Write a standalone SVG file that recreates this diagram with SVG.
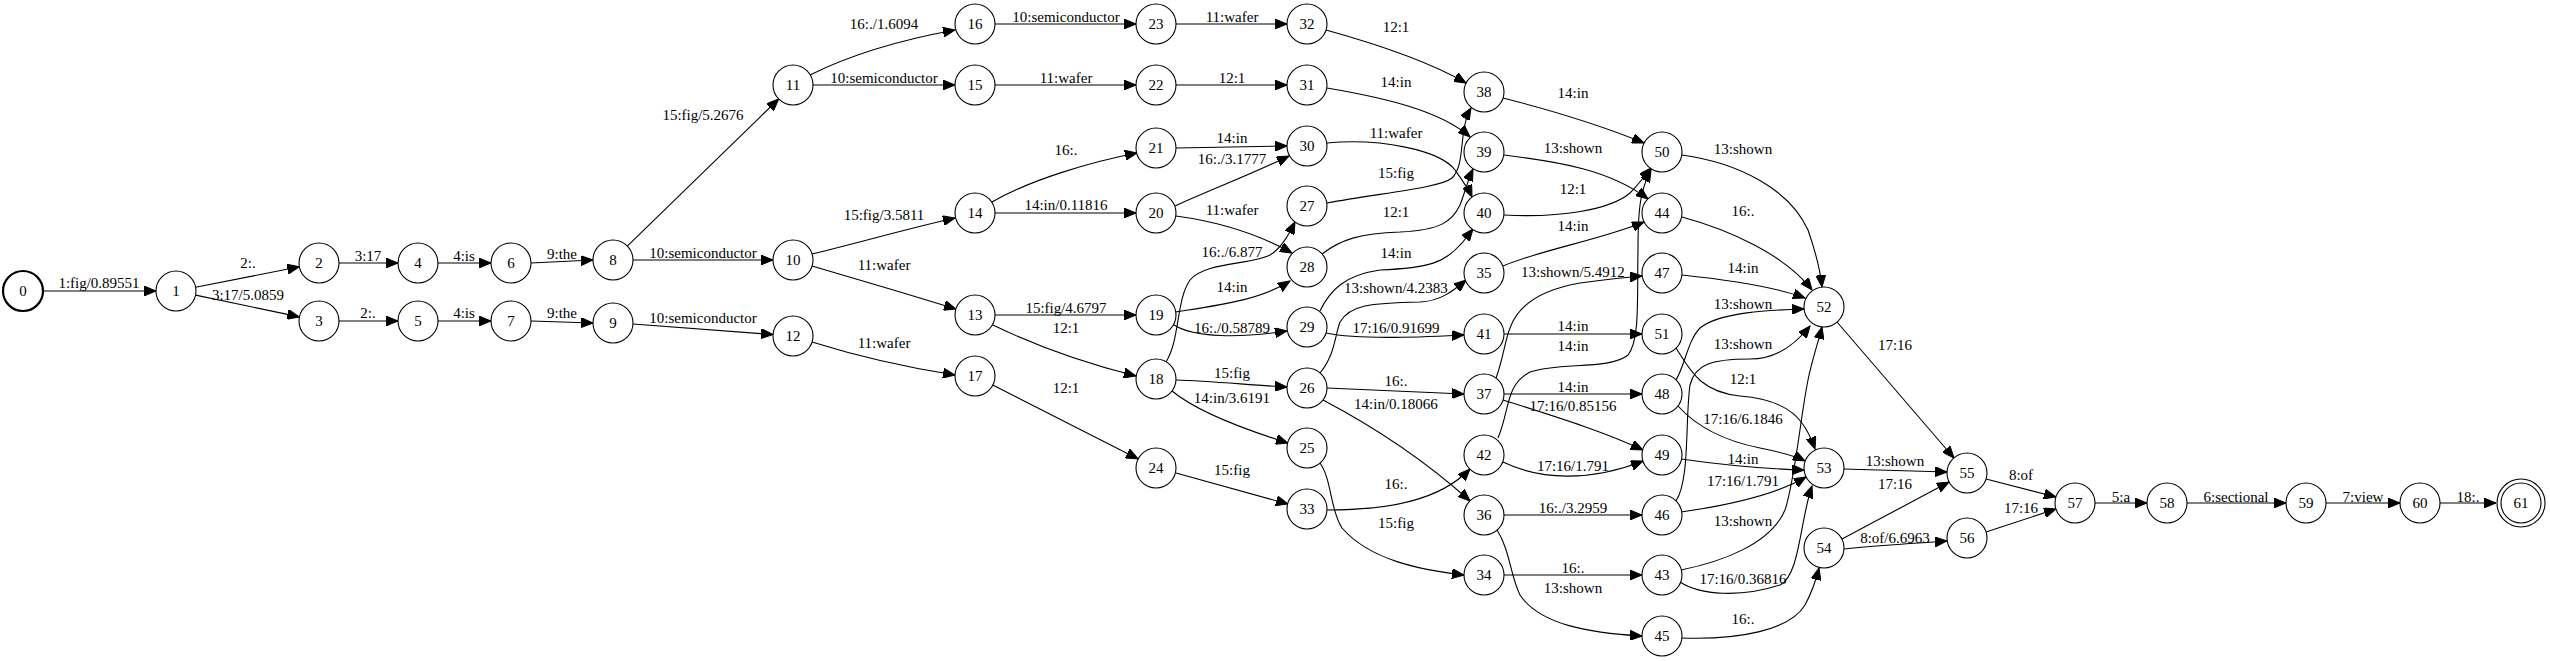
<svg xmlns="http://www.w3.org/2000/svg" width="2550" height="661" viewBox="0 0 2550 661">
<style>
.n circle{fill:#fff;stroke:#000;stroke-width:1.1}
.n text,.lb{font-family:"Liberation Serif","Times New Roman",serif;font-size:15px;text-anchor:middle;fill:#000}
#edges path{fill:none;stroke:#000;stroke-width:1.1;marker-end:url(#ah)}
</style>
<defs>
<marker id="ah" markerUnits="userSpaceOnUse" markerWidth="13" markerHeight="10" refX="12" refY="5" orient="auto">
<path d="M0,0 L12,5 L0,10 z" fill="#000" stroke="#000" stroke-width="1"/>
</marker>
</defs>
<rect width="2550" height="661" fill="#fff"/>
<g id="edges">
<path d="M43,291 L156,291"/><text class="lb" x="99" y="288">1:fig/0.89551</text>
<path d="M195.6,287.2 L299.4,266.8"/><text class="lb" x="248" y="268">2:.</text>
<path d="M195.6,295.1 L299.4,316.9"/><text class="lb" x="248" y="300">3:17/5.0859</text>
<path d="M339,263 L398,263"/><text class="lb" x="368" y="261">3:17</text>
<path d="M339,321 L398,321"/><text class="lb" x="368" y="318">2:.</text>
<path d="M438,263 L491,263"/><text class="lb" x="464" y="261">4:is</text>
<path d="M438,321 L491,321"/><text class="lb" x="464" y="318">4:is</text>
<path d="M531,263 L593,260"/><text class="lb" x="562" y="259">9:the</text>
<path d="M531,321 L593,323"/><text class="lb" x="562" y="318">9:the</text>
<path d="M633,260 L773,260"/><text class="lb" x="703" y="258">10:semiconductor</text>
<path d="M633,324 L773,334.5"/><text class="lb" x="703" y="323">10:semiconductor</text>
<path d="M627.3,246.1 L778.7,98.9"/><text class="lb" x="703" y="120">15:fig/5.2676</text>
<path d="M810,75 C850,55 900,40 955,30"/><text class="lb" x="884" y="29">16:./1.6094</text>
<path d="M813,85 L955,85"/><text class="lb" x="884" y="83">10:semiconductor</text>
<path d="M812,254 C850,245 910,228 955,218"/><text class="lb" x="884" y="220">15:fig/3.5811</text>
<path d="M812,266 C850,277 910,295 956,309"/><text class="lb" x="884" y="270">11:wafer</text>
<path d="M812,342 C860,357 910,368 955,375"/><text class="lb" x="884" y="348">11:wafer</text>
<path d="M995,24 L1136,24"/><text class="lb" x="1066" y="22">10:semiconductor</text>
<path d="M995,85 L1136,85"/><text class="lb" x="1066" y="83">11:wafer</text>
<path d="M992,202 C1030,180 1090,162 1137,153"/><text class="lb" x="1066" y="155">16:.</text>
<path d="M995,213 L1136,213"/><text class="lb" x="1066" y="210">14:in/0.11816</text>
<path d="M995,315 L1136,315"/><text class="lb" x="1066" y="313">15:fig/4.6797</text>
<path d="M993,325 C1030,343 1080,362 1136,376"/><text class="lb" x="1066" y="333">12:1</text>
<path d="M992.8,385.1 L1138.2,458.9"/><text class="lb" x="1066" y="393">12:1</text>
<path d="M1176,24 L1287,24"/><text class="lb" x="1232" y="22">11:wafer</text>
<path d="M1176,85 L1287,85"/><text class="lb" x="1232" y="83">12:1</text>
<path d="M1176,148 L1287,146"/><text class="lb" x="1232" y="143">14:in</text>
<path d="M1175,206 C1210,190 1250,175 1289,156"/><text class="lb" x="1232" y="164">16:./3.1777</text>
<path d="M1176,216 C1220,222 1260,235 1292,253"/><text class="lb" x="1232" y="215">11:wafer</text>
<path d="M1166,362 C1180,340 1176,300 1190,280 C1205,262 1250,265 1270,255 C1282,248 1290,232 1295,222"/><text class="lb" x="1232" y="257">16:./6.877</text>
<path d="M1176,312 C1220,305 1260,300 1290,281"/><text class="lb" x="1232" y="292">14:in</text>
<path d="M1174,325 C1195,338 1240,338 1287,331"/><text class="lb" x="1232" y="333">16:./0.58789</text>
<path d="M1176,380 C1210,381 1250,385 1287,387"/><text class="lb" x="1232" y="378">15:fig</text>
<path d="M1172,391 C1195,410 1240,428 1288,443"/><text class="lb" x="1232" y="403">14:in/3.6191</text>
<path d="M1176,473 L1288,504"/><text class="lb" x="1232" y="475">15:fig</text>
<path d="M1326,30 C1380,45 1430,62 1466,83"/><text class="lb" x="1396" y="32">12:1</text>
<path d="M1327,88 C1380,97 1440,110 1470,137"/><text class="lb" x="1396" y="87">14:in</text>
<path d="M1327,143 C1380,138 1440,150 1455,170 C1462,180 1468,188 1472,197"/><text class="lb" x="1396" y="138">11:wafer</text>
<path d="M1327,203 C1380,193 1440,188 1452,178 C1466,165 1458,130 1471,108"/><text class="lb" x="1396" y="178">15:fig</text>
<path d="M1322,254 C1340,240 1360,233 1400,232 C1440,230 1452,222 1460,205 C1465,192 1468,180 1473,169"/><text class="lb" x="1396" y="217">12:1</text>
<path d="M1320,311 C1330,290 1345,275 1380,270 C1430,268 1445,262 1460,245 C1465,240 1469,234 1473,229"/><text class="lb" x="1396" y="258">14:in</text>
<path d="M1320,373 C1335,355 1335,335 1340,322 C1350,305 1370,303 1420,302 C1440,301 1452,292 1466,280"/><text class="lb" x="1396" y="293">13:shown/4.2383</text>
<path d="M1326,333 C1360,340 1420,337 1464,335"/><text class="lb" x="1396" y="333">17:16/0.91699</text>
<path d="M1327,388 L1464,394"/><text class="lb" x="1396" y="386">16:.</text>
<path d="M1323,400 C1380,430 1430,465 1470,501"/><text class="lb" x="1396" y="409">14:in/0.18066</text>
<path d="M1327,510 C1390,510 1440,500 1470,469"/><text class="lb" x="1396" y="489">16:.</text>
<path d="M1320,463 C1332,480 1330,510 1342,528 C1370,560 1420,570 1464,575"/><text class="lb" x="1396" y="528">15:fig</text>
<path d="M1504,515 L1642,515"/><text class="lb" x="1573" y="513">16:./3.2959</text>
<path d="M1504,575 L1642,575"/><text class="lb" x="1573" y="573">16:.</text>
<path d="M1497,530 C1510,550 1510,575 1520,595 C1540,625 1590,633 1642,636"/><text class="lb" x="1573" y="593">13:shown</text>
<path d="M1504,394 L1642,394"/><text class="lb" x="1573" y="392">14:in</text>
<path d="M1503,400 C1550,415 1600,430 1643,450"/><text class="lb" x="1573" y="411">17:16/0.85156</text>
<path d="M1503,462 C1540,480 1590,482 1643,461"/><text class="lb" x="1573" y="471">17:16/1.791</text>
<path d="M1498,438 C1510,410 1505,385 1530,372 C1560,362 1610,370 1628,355 C1640,340 1637,300 1638,250 C1638,210 1640,190 1651,170"/><text class="lb" x="1573" y="351">14:in</text>
<path d="M1504,215 C1560,218 1610,210 1630,193 C1640,183 1645,175 1651,168"/><text class="lb" x="1573" y="194">12:1</text>
<path d="M1503,98 C1550,110 1600,125 1644,143"/><text class="lb" x="1573" y="98">14:in</text>
<path d="M1504,155 C1560,162 1610,170 1648,199"/><text class="lb" x="1573" y="153">13:shown</text>
<path d="M1503,266 C1540,250 1600,240 1644,222"/><text class="lb" x="1573" y="231">14:in</text>
<path d="M1496,378 C1503,360 1505,340 1510,328 C1518,305 1540,290 1580,283 C1610,279 1630,277 1642,276"/><text class="lb" x="1573" y="277">13:shown/5.4912</text>
<path d="M1504,334 L1642,334"/><text class="lb" x="1573" y="331">14:in</text>
<path d="M1682,155 C1740,163 1790,190 1808,230 C1815,250 1820,268 1822,287"/><text class="lb" x="1743" y="154">13:shown</text>
<path d="M1682,217 C1730,230 1785,255 1812,290"/><text class="lb" x="1743" y="216">16:.</text>
<path d="M1682,275 C1730,280 1775,287 1805,298"/><text class="lb" x="1743" y="273">14:in</text>
<path d="M1676,380 C1685,365 1688,340 1700,328 C1720,312 1770,310 1804,309"/><text class="lb" x="1743" y="309">13:shown</text>
<path d="M1676,501 C1690,480 1685,420 1690,385 C1695,365 1710,359 1750,359 C1775,359 1795,345 1810,326"/><text class="lb" x="1743" y="349">13:shown</text>
<path d="M1681,570 C1720,562 1770,545 1785,510 C1795,480 1800,420 1808,380 C1812,360 1818,343 1822,327"/><text class="lb" x="1743" y="526">13:shown</text>
<path d="M1676,348 C1690,370 1700,392 1740,396 C1790,400 1805,420 1815,449"/><text class="lb" x="1743" y="384">12:1</text>
<path d="M1678,406 C1695,425 1720,440 1760,448 C1780,452 1795,456 1805,461"/><text class="lb" x="1743" y="424">17:16/6.1846</text>
<path d="M1681,459 C1730,466 1770,469 1804,470"/><text class="lb" x="1743" y="464">14:in</text>
<path d="M1681,512 C1730,505 1775,495 1806,477"/><text class="lb" x="1743" y="486">17:16/1.791</text>
<path d="M1680,582 C1700,595 1740,598 1780,585 C1800,575 1800,520 1812,486"/><text class="lb" x="1743" y="584">17:16/0.36816</text>
<path d="M1681,638 C1740,640 1790,630 1805,605 C1812,592 1816,580 1819,568"/><text class="lb" x="1743" y="624">16:.</text>
<path d="M1837,322 L1954,458"/><text class="lb" x="1895" y="350">17:16</text>
<path d="M1844,469 L1947,472"/><text class="lb" x="1895" y="466">13:shown</text>
<path d="M1842,539 L1949,482"/><text class="lb" x="1895" y="489">17:16</text>
<path d="M1844,549 C1880,545 1920,543 1947,541"/><text class="lb" x="1895" y="543">8:of/6.6963</text>
<path d="M1986,479 L2056,497"/><text class="lb" x="2021" y="480">8:of</text>
<path d="M1986,532 L2056,509"/><text class="lb" x="2021" y="513">17:16</text>
<path d="M2095,503 L2147,503"/><text class="lb" x="2121" y="502">5:a</text>
<path d="M2187,503 L2286,503"/><text class="lb" x="2236" y="502">6:sectional</text>
<path d="M2326,503 L2400,503"/><text class="lb" x="2363" y="502">7:view</text>
<path d="M2440,503 L2496,503"/><text class="lb" x="2468" y="502">18:.</text>
</g>
<g id="n0" class="n"><circle cx="23" cy="291" r="20" style="stroke-width:2.2"/><text x="23" y="296">0</text></g>
<g id="n1" class="n"><circle cx="176" cy="291" r="20"/><text x="176" y="296">1</text></g>
<g id="n2" class="n"><circle cx="319" cy="263" r="20"/><text x="319" y="268">2</text></g>
<g id="n3" class="n"><circle cx="319" cy="321" r="20"/><text x="319" y="326">3</text></g>
<g id="n4" class="n"><circle cx="418" cy="263" r="20"/><text x="418" y="268">4</text></g>
<g id="n5" class="n"><circle cx="418" cy="321" r="20"/><text x="418" y="326">5</text></g>
<g id="n6" class="n"><circle cx="511" cy="263" r="20"/><text x="511" y="268">6</text></g>
<g id="n7" class="n"><circle cx="511" cy="321" r="20"/><text x="511" y="326">7</text></g>
<g id="n8" class="n"><circle cx="613" cy="260" r="20"/><text x="613" y="265">8</text></g>
<g id="n9" class="n"><circle cx="613" cy="323" r="20"/><text x="613" y="328">9</text></g>
<g id="n10" class="n"><circle cx="793" cy="260" r="20"/><text x="793" y="265">10</text></g>
<g id="n11" class="n"><circle cx="793" cy="85" r="20"/><text x="793" y="90">11</text></g>
<g id="n12" class="n"><circle cx="793" cy="336" r="20"/><text x="793" y="341">12</text></g>
<g id="n13" class="n"><circle cx="975" cy="315" r="20"/><text x="975" y="320">13</text></g>
<g id="n14" class="n"><circle cx="975" cy="213" r="20"/><text x="975" y="218">14</text></g>
<g id="n15" class="n"><circle cx="975" cy="85" r="20"/><text x="975" y="90">15</text></g>
<g id="n16" class="n"><circle cx="975" cy="24" r="20"/><text x="975" y="29">16</text></g>
<g id="n17" class="n"><circle cx="975" cy="376" r="20"/><text x="975" y="381">17</text></g>
<g id="n18" class="n"><circle cx="1156" cy="379" r="20"/><text x="1156" y="384">18</text></g>
<g id="n19" class="n"><circle cx="1156" cy="315" r="20"/><text x="1156" y="320">19</text></g>
<g id="n20" class="n"><circle cx="1156" cy="213" r="20"/><text x="1156" y="218">20</text></g>
<g id="n21" class="n"><circle cx="1156" cy="148" r="20"/><text x="1156" y="153">21</text></g>
<g id="n22" class="n"><circle cx="1156" cy="85" r="20"/><text x="1156" y="90">22</text></g>
<g id="n23" class="n"><circle cx="1156" cy="24" r="20"/><text x="1156" y="29">23</text></g>
<g id="n24" class="n"><circle cx="1156" cy="468" r="20"/><text x="1156" y="473">24</text></g>
<g id="n25" class="n"><circle cx="1307" cy="448" r="20"/><text x="1307" y="453">25</text></g>
<g id="n26" class="n"><circle cx="1307" cy="388" r="20"/><text x="1307" y="393">26</text></g>
<g id="n27" class="n"><circle cx="1307" cy="206" r="20"/><text x="1307" y="211">27</text></g>
<g id="n28" class="n"><circle cx="1307" cy="267" r="20"/><text x="1307" y="272">28</text></g>
<g id="n29" class="n"><circle cx="1307" cy="327" r="20"/><text x="1307" y="332">29</text></g>
<g id="n30" class="n"><circle cx="1307" cy="146" r="20"/><text x="1307" y="151">30</text></g>
<g id="n31" class="n"><circle cx="1307" cy="85" r="20"/><text x="1307" y="90">31</text></g>
<g id="n32" class="n"><circle cx="1307" cy="24" r="20"/><text x="1307" y="29">32</text></g>
<g id="n33" class="n"><circle cx="1307" cy="509" r="20"/><text x="1307" y="514">33</text></g>
<g id="n34" class="n"><circle cx="1484" cy="575" r="20"/><text x="1484" y="580">34</text></g>
<g id="n35" class="n"><circle cx="1484" cy="273" r="20"/><text x="1484" y="278">35</text></g>
<g id="n36" class="n"><circle cx="1484" cy="515" r="20"/><text x="1484" y="520">36</text></g>
<g id="n37" class="n"><circle cx="1484" cy="394" r="20"/><text x="1484" y="399">37</text></g>
<g id="n38" class="n"><circle cx="1484" cy="92" r="20"/><text x="1484" y="97">38</text></g>
<g id="n39" class="n"><circle cx="1484" cy="152" r="20"/><text x="1484" y="157">39</text></g>
<g id="n40" class="n"><circle cx="1484" cy="213" r="20"/><text x="1484" y="218">40</text></g>
<g id="n41" class="n"><circle cx="1484" cy="334" r="20"/><text x="1484" y="339">41</text></g>
<g id="n42" class="n"><circle cx="1484" cy="455" r="20"/><text x="1484" y="460">42</text></g>
<g id="n43" class="n"><circle cx="1662" cy="575" r="20"/><text x="1662" y="580">43</text></g>
<g id="n44" class="n"><circle cx="1662" cy="213" r="20"/><text x="1662" y="218">44</text></g>
<g id="n45" class="n"><circle cx="1662" cy="636" r="20"/><text x="1662" y="641">45</text></g>
<g id="n46" class="n"><circle cx="1662" cy="515" r="20"/><text x="1662" y="520">46</text></g>
<g id="n47" class="n"><circle cx="1662" cy="273" r="20"/><text x="1662" y="278">47</text></g>
<g id="n48" class="n"><circle cx="1662" cy="394" r="20"/><text x="1662" y="399">48</text></g>
<g id="n49" class="n"><circle cx="1662" cy="455" r="20"/><text x="1662" y="460">49</text></g>
<g id="n50" class="n"><circle cx="1662" cy="152" r="20"/><text x="1662" y="157">50</text></g>
<g id="n51" class="n"><circle cx="1662" cy="334" r="20"/><text x="1662" y="339">51</text></g>
<g id="n52" class="n"><circle cx="1824" cy="307" r="20"/><text x="1824" y="312">52</text></g>
<g id="n53" class="n"><circle cx="1824" cy="468" r="20"/><text x="1824" y="473">53</text></g>
<g id="n54" class="n"><circle cx="1824" cy="548" r="20"/><text x="1824" y="553">54</text></g>
<g id="n55" class="n"><circle cx="1967" cy="473" r="20"/><text x="1967" y="478">55</text></g>
<g id="n56" class="n"><circle cx="1967" cy="538" r="20"/><text x="1967" y="543">56</text></g>
<g id="n57" class="n"><circle cx="2075" cy="503" r="20"/><text x="2075" y="508">57</text></g>
<g id="n58" class="n"><circle cx="2167" cy="503" r="20"/><text x="2167" y="508">58</text></g>
<g id="n59" class="n"><circle cx="2306" cy="503" r="20"/><text x="2306" y="508">59</text></g>
<g id="n60" class="n"><circle cx="2420" cy="503" r="20"/><text x="2420" y="508">60</text></g>
<g id="n61" class="n"><circle cx="2521" cy="503" r="24"/><circle cx="2521" cy="503" r="20"/><text x="2521" y="508">61</text></g>
</svg>
